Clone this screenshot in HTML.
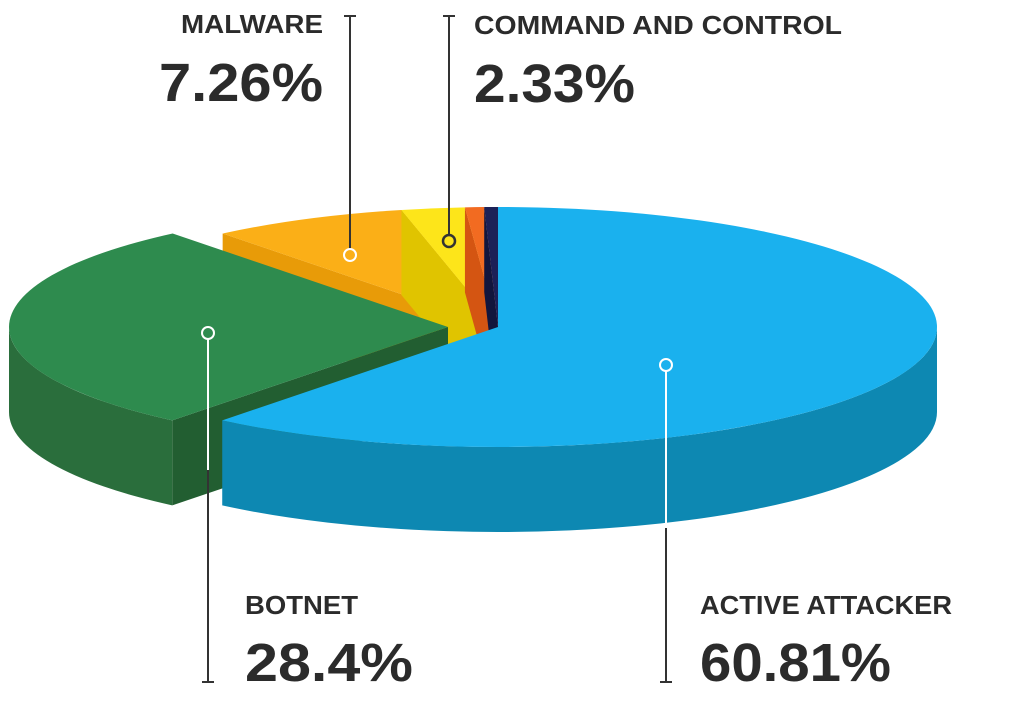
<!DOCTYPE html>
<html><head><meta charset="utf-8"><style>
html,body{margin:0;padding:0;background:#fff;}
svg{display:block;}
text{font-family:"Liberation Sans",Arial,sans-serif;font-weight:bold;fill:#2b2b2b;}
</style></head><body>
<svg id="chart" width="1024" height="713" viewBox="0 0 1024 713" xmlns="http://www.w3.org/2000/svg">
<g id="slices"></g>
<g id="labels">
  <line x1="350" y1="16" x2="350" y2="249" stroke="#333" stroke-width="2"/>
  <line x1="344" y1="16" x2="356" y2="16" stroke="#333" stroke-width="2"/>
  <line x1="449" y1="16" x2="449" y2="234" stroke="#333" stroke-width="2"/>
  <line x1="443" y1="16" x2="455" y2="16" stroke="#333" stroke-width="2"/>
  <line x1="208" y1="339" x2="208" y2="682" stroke="#333" stroke-width="2"/>
  <line x1="208" y1="339" x2="208" y2="470" stroke="#fff" stroke-width="2"/>
  <line x1="202" y1="682" x2="214" y2="682" stroke="#333" stroke-width="2"/>
  <line x1="666" y1="371" x2="666" y2="682" stroke="#333" stroke-width="2"/>
  <line x1="666" y1="371" x2="666" y2="528" stroke="#fff" stroke-width="2"/>
  <line x1="660" y1="682" x2="672" y2="682" stroke="#333" stroke-width="2"/>
  <circle cx="350" cy="255" r="6" fill="none" stroke="#fff" stroke-width="2"/>
  <circle cx="449" cy="241" r="6" fill="none" stroke="#333" stroke-width="2.5"/>
  <circle cx="208" cy="333" r="6" fill="none" stroke="#fff" stroke-width="2"/>
  <circle cx="666" cy="365" r="6" fill="none" stroke="#fff" stroke-width="2"/>
  <text x="323" y="33" font-size="26" text-anchor="end" textLength="142" lengthAdjust="spacingAndGlyphs">MALWARE</text>
  <text x="323" y="101" font-size="54" text-anchor="end" textLength="164" lengthAdjust="spacingAndGlyphs">7.26%</text>
  <text x="474" y="34" font-size="26" textLength="368" lengthAdjust="spacingAndGlyphs">COMMAND AND CONTROL</text>
  <text x="474" y="102" font-size="54" textLength="161" lengthAdjust="spacingAndGlyphs">2.33%</text>
  <text x="245" y="614" font-size="26" textLength="113" lengthAdjust="spacingAndGlyphs">BOTNET</text>
  <text x="245" y="681" font-size="54" textLength="168" lengthAdjust="spacingAndGlyphs">28.4%</text>
  <text x="700" y="614" font-size="26" textLength="252" lengthAdjust="spacingAndGlyphs">ACTIVE ATTACKER</text>
  <text x="700" y="681" font-size="54" textLength="191" lengthAdjust="spacingAndGlyphs">60.81%</text>
</g>
</svg>
<script>
const categories = ["Active Attacker","Botnet","Malware","Command and Control","Other A","Other B"];
const values = [60.81, 28.4, 7.26, 2.33, 0.7, 0.5];
const topColors = ["#1ab1ee","#2e8b4e","#fbaf17","#fde51a","#f26b21","#1c2157"];
const wallColors = ["#0d88b2","#2a6e3c","#e89b08","#e0c400","#d45512","#12163d"];
const cutColors = ["#0b7aa0","#225e31","#e89b08","#e0c400","#d45512","#12163d"];
const explodeX = [0,-50,0,0,0,0];
const drawOrder = [2,3,4,5,1,0];

const NS="http://www.w3.org/2000/svg";
const CX=498, CY=327, RX=439, RY=120, DEPTH=85;
const g=document.getElementById('slices');
const total=values.reduce((a,b)=>a+b,0);
const rad=d=>d*Math.PI/180;
function pt(cx,a,dy){return [cx+RX*Math.cos(rad(a)), CY+RY*Math.sin(rad(a))+(dy||0)];}
function add(d,fill,name){
  const p=document.createElementNS(NS,'path');
  p.setAttribute('d',d);p.setAttribute('fill',fill);
  
  
  g.appendChild(p);
}
const starts=[];let acc=-90;
values.forEach((v,i)=>{starts.push([acc,acc+v/total*360]);acc+=v/total*360;});
drawOrder.forEach(i=>{
  const [a0,a1]=starts[i];const cx=CX+explodeX[i];
  const key=categories[i].toLowerCase().replace(/ /g,'-');
  // cut faces
  [[a0,-1],[a1,1]].forEach(([a,s])=>{
    const c=Math.cos(rad(a))*s;
    if(c>0){
      const p=pt(cx,a);
      add(`M${cx},${CY} L${p[0]},${p[1]} L${p[0]},${p[1]+DEPTH} L${cx},${CY+DEPTH} Z`,cutColors[i],key+'-cut-face');
    }
  });
  // outer wall (front half 0..180, also 360..540 range)
  [[0,180],[360,540]].forEach(([lo,hi])=>{
    const s=Math.max(a0,lo), e=Math.min(a1,hi);
    if(e>s){
      const p1=pt(cx,s),p2=pt(cx,e);const lg=(e-s)>180?1:0;
      add(`M${p1[0]},${p1[1]} A${RX},${RY} 0 ${lg} 1 ${p2[0]},${p2[1]} L${p2[0]},${p2[1]+DEPTH} A${RX},${RY} 0 ${lg} 0 ${p1[0]},${p1[1]+DEPTH} Z`,wallColors[i],key+'-side-wall');
    }
  });
  const p1=pt(cx,a0),p2=pt(cx,a1);const lg=(a1-a0)>180?1:0;
  add(`M${cx},${CY} L${p1[0]},${p1[1]} A${RX},${RY} 0 ${lg} 1 ${p2[0]},${p2[1]} Z`,topColors[i],key+'-top-face');
});
</script>
</body></html>
